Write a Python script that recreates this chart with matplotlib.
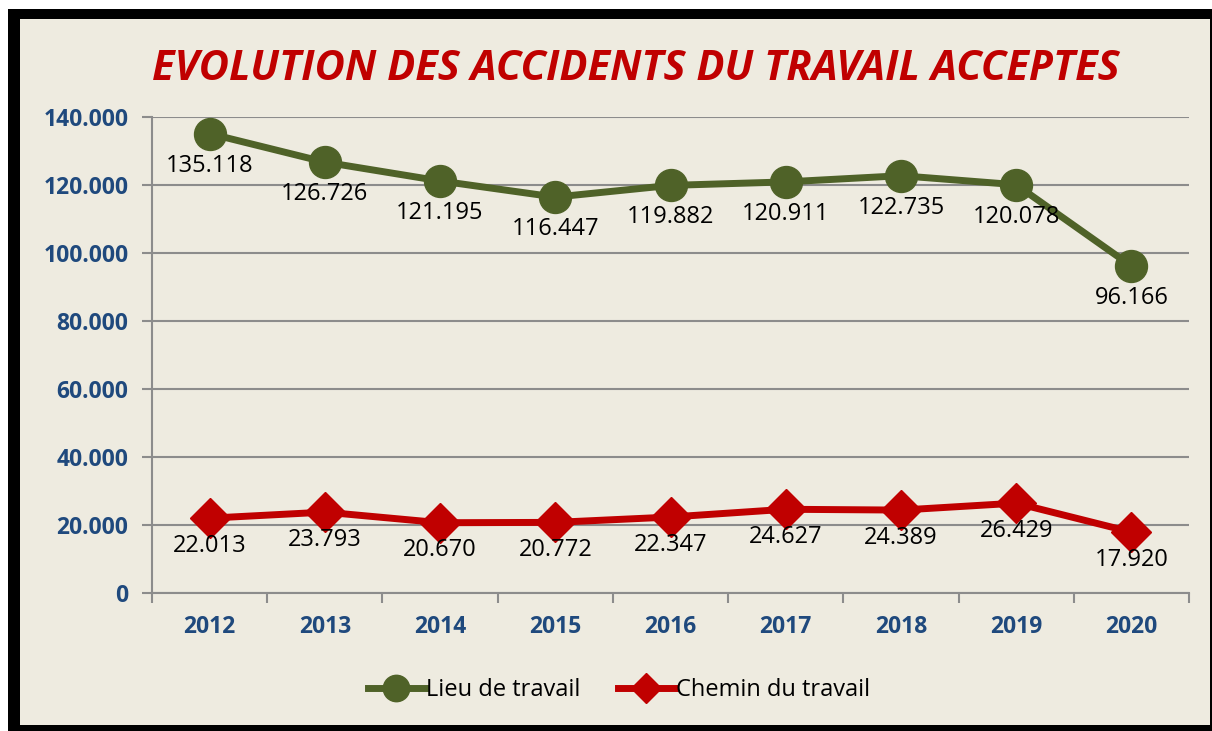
import matplotlib.pyplot as plt
from matplotlib.patches import Rectangle
from matplotlib.lines import Line2D

years = ['2012', '2013', '2014', '2015', '2016', '2017', '2018', '2019', '2020']
lieu = [135118, 126726, 121195, 116447, 119882, 120911, 122735, 120078, 96166]
chemin = [22013, 23793, 20670, 20772, 22347, 24627, 24389, 26429, 17920]
yticks = [0, 20000, 40000, 60000, 80000, 100000, 120000, 140000]

green = '#4F6228'
red = '#C00000'
blue = '#1F497D'
beige = '#EEEBE0'
grid_c = '#8C8C8C'

W, H = 1212, 731
fig = plt.figure(figsize=(W / 100, H / 100), dpi=100)
fig.patch.set_facecolor('white')

def px_rect(x0, y0, x1, y1, color):
    # rectangle given in pixel coords (top-left origin)
    fig.patches.append(Rectangle((x0 / W, 1 - y1 / H), (x1 - x0) / W, (y1 - y0) / H,
                                 transform=fig.transFigure, facecolor=color,
                                 edgecolor='none', zorder=-10))

px_rect(8, 9, 1212, 731, 'black')
px_rect(20, 19, 1210, 725, beige)

def fmt(v):
    return f"{v:,}".replace(',', '.')

ax = fig.add_axes([152 / W, 1 - 593 / H, (1189 - 152) / W, (593 - 117) / H])
ax.set_facecolor('none')
x = list(range(len(years)))

ax.plot(x, lieu, color=green, lw=5, marker='o', ms=23, zorder=3, label='Lieu de travail')
ax.plot(x, chemin, color=red, lw=5, marker='D', ms=20, zorder=3, label='Chemin du travail')

for xi, v in zip(x, lieu):
    ax.annotate(fmt(v), (xi, v), xytext=(0, -23), textcoords='offset points',
                ha='center', va='center', fontsize=17, family='Open Sans', color='black')
for xi, v in zip(x, chemin):
    ax.annotate(fmt(v), (xi, v), xytext=(0, -20), textcoords='offset points',
                ha='center', va='center', fontsize=17, family='Open Sans', color='black')

ax.set_xlim(-0.5, len(years) - 0.5)
ax.set_ylim(0, 140000)
ax.set_yticks(yticks)
ax.set_yticklabels([fmt(v) for v in yticks])
ax.set_xticks(x)
ax.set_xticklabels(years)
ax.set_xticks([i - 0.5 for i in range(len(years) + 1)], minor=True)
ax.tick_params(axis='x', which='major', length=0, pad=16)
ax.tick_params(axis='x', which='minor', length=7, width=1.5, color=grid_c, direction='out')
ax.tick_params(axis='y', length=7, width=1.5, color=grid_c, pad=10)
for lab in ax.get_xticklabels() + ax.get_yticklabels():
    lab.set_fontfamily('Open Sans')
    lab.set_fontweight('bold')
    lab.set_fontsize(16.5)
    lab.set_color(blue)

ax.grid(axis='y', color=grid_c, lw=1.5)
ax.set_axisbelow(True)
for s in ['top', 'right']:
    ax.spines[s].set_visible(False)
for s in ['left', 'bottom']:
    ax.spines[s].set_color(grid_c)
    ax.spines[s].set_linewidth(1.5)

fig.text(636 / W, 1 - 70 / H, 'EVOLUTION DES ACCIDENTS DU TRAVAIL ACCEPTES',
         ha='center', va='center', fontsize=30, fontweight='bold', style='italic',
         family='Open Sans', color=red)

handles = [Line2D([], [], color=green, lw=5, marker='o', ms=19),
           Line2D([], [], color=red, lw=5, marker='D', ms=15)]
fig.legend(handles, ['Lieu de travail', 'Chemin du travail'], loc='center',
           bbox_to_anchor=(619 / W, 1 - 690 / H), ncol=2, frameon=False,
           prop={'family': 'Open Sans', 'size': 17}, handlelength=2.4,
           handletextpad=0.05, columnspacing=1.6)

fig.savefig('out.png', dpi=100, facecolor=fig.get_facecolor())
